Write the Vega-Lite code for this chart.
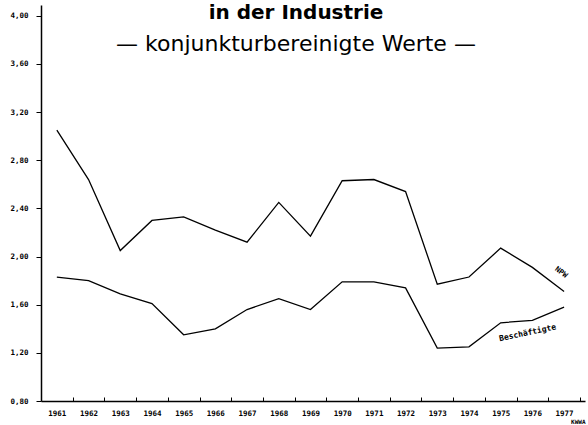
{
  "$schema": "https://vega.github.io/schema/vega-lite/v6.json",
  "width": 544,
  "height": 396,
  "autosize": {"type": "none"},
  "padding": {"left": 41, "top": 5, "right": 3, "bottom": 24},
  "background": "white",
  "title": {
    "text": "in der Industrie",
    "subtitle": "— konjunkturbereinigte Werte —",
    "font": "DejaVu Sans",
    "fontSize": 20,
    "fontWeight": "bold",
    "color": "black",
    "subtitleFont": "DejaVu Sans",
    "subtitleFontSize": 22,
    "subtitleColor": "black",
    "subtitlePadding": 11,
    "anchor": "middle",
    "frame": "group",
    "offset": -50,
    "dx": -17
  },
  "data": {
    "values": [
      {"year": 1961, "series": "NPW", "value": 3.05},
      {"year": 1962, "series": "NPW", "value": 2.64},
      {"year": 1963, "series": "NPW", "value": 2.05},
      {"year": 1964, "series": "NPW", "value": 2.30},
      {"year": 1965, "series": "NPW", "value": 2.33},
      {"year": 1966, "series": "NPW", "value": 2.22},
      {"year": 1967, "series": "NPW", "value": 2.12},
      {"year": 1968, "series": "NPW", "value": 2.45},
      {"year": 1969, "series": "NPW", "value": 2.17},
      {"year": 1970, "series": "NPW", "value": 2.63},
      {"year": 1971, "series": "NPW", "value": 2.64},
      {"year": 1972, "series": "NPW", "value": 2.54},
      {"year": 1973, "series": "NPW", "value": 1.77},
      {"year": 1974, "series": "NPW", "value": 1.83},
      {"year": 1975, "series": "NPW", "value": 2.07},
      {"year": 1976, "series": "NPW", "value": 1.91},
      {"year": 1977, "series": "NPW", "value": 1.71},
      {"year": 1961, "series": "Beschäftigte", "value": 1.83},
      {"year": 1962, "series": "Beschäftigte", "value": 1.80},
      {"year": 1963, "series": "Beschäftigte", "value": 1.69},
      {"year": 1964, "series": "Beschäftigte", "value": 1.61},
      {"year": 1965, "series": "Beschäftigte", "value": 1.35},
      {"year": 1966, "series": "Beschäftigte", "value": 1.40},
      {"year": 1967, "series": "Beschäftigte", "value": 1.56},
      {"year": 1968, "series": "Beschäftigte", "value": 1.65},
      {"year": 1969, "series": "Beschäftigte", "value": 1.56},
      {"year": 1970, "series": "Beschäftigte", "value": 1.79},
      {"year": 1971, "series": "Beschäftigte", "value": 1.79},
      {"year": 1972, "series": "Beschäftigte", "value": 1.74},
      {"year": 1973, "series": "Beschäftigte", "value": 1.24},
      {"year": 1974, "series": "Beschäftigte", "value": 1.25},
      {"year": 1975, "series": "Beschäftigte", "value": 1.45},
      {"year": 1976, "series": "Beschäftigte", "value": 1.47},
      {"year": 1977, "series": "Beschäftigte", "value": 1.58}
    ]
  },
  "encoding": {
    "x": {
      "field": "year",
      "type": "quantitative",
      "scale": {"domain": [1960.5, 1977.66], "zero": false, "nice": false},
      "axis": {
        "title": "KWWA",
        "titleFont": "DejaVu Sans Mono",
        "titleFontSize": 6,
        "titleFontWeight": "bold",
        "titleAnchor": "end",
        "titlePadding": 2,
        "titleColor": "black",
        "values": [1961, 1962, 1963, 1964, 1965, 1966, 1967, 1968, 1969, 1970, 1971, 1972, 1973, 1974, 1975, 1976, 1977],
        "format": "d",
        "grid": false,
        "tickSize": -4,
        "tickOffset": 15.85,
        "labelOffset": -15.85,
        "labelPadding": 12,
        "tickColor": "black",
        "domainColor": "black",
        "domainWidth": 1.5,
        "labelFont": "DejaVu Sans Mono",
        "labelFontSize": 7.5,
        "labelFontWeight": "bold",
        "labelColor": "black",
        "labelFlush": false,
        "labelOverlap": false
      }
    },
    "y": {
      "field": "value",
      "type": "quantitative",
      "scale": {"domain": [0.8, 4.09], "zero": false, "nice": false},
      "axis": {
        "title": null,
        "values": [0.8, 1.2, 1.6, 2.0, 2.4, 2.8, 3.2, 3.6, 4.0],
        "labelExpr": "replace(format(datum.value, '.2f'), '.', ',')",
        "grid": false,
        "tickSize": 5,
        "labelPadding": 8,
        "tickColor": "black",
        "domainColor": "black",
        "domainWidth": 1.5,
        "labelFont": "DejaVu Sans Mono",
        "labelFontSize": 7.5,
        "labelFontWeight": "bold",
        "labelColor": "black"
      }
    }
  },
  "layer": [
    {
      "mark": {"type": "line", "color": "black", "strokeWidth": 1.3},
      "encoding": {"detail": {"field": "series"}}
    },
    {
      "transform": [{"filter": "datum.year == 1977 && datum.series == 'NPW'"}],
      "mark": {"type": "text", "font": "DejaVu Sans Mono", "fontSize": 7.5, "fontWeight": "bold", "color": "black", "angle": 36, "dx": -13.6, "dy": -13.6, "align": "center", "baseline": "middle"},
      "encoding": {"text": {"field": "series"}}
    },
    {
      "transform": [{"filter": "datum.year == 1977 && datum.series == 'Beschäftigte'"}],
      "mark": {"type": "text", "font": "DejaVu Sans Mono", "fontSize": 8, "fontWeight": "bold", "color": "black", "angle": -12, "dx": -41, "dy": 18, "align": "center", "baseline": "middle"},
      "encoding": {"text": {"field": "series"}}
    }
  ],
  "config": {"view": {"stroke": null}}
}
